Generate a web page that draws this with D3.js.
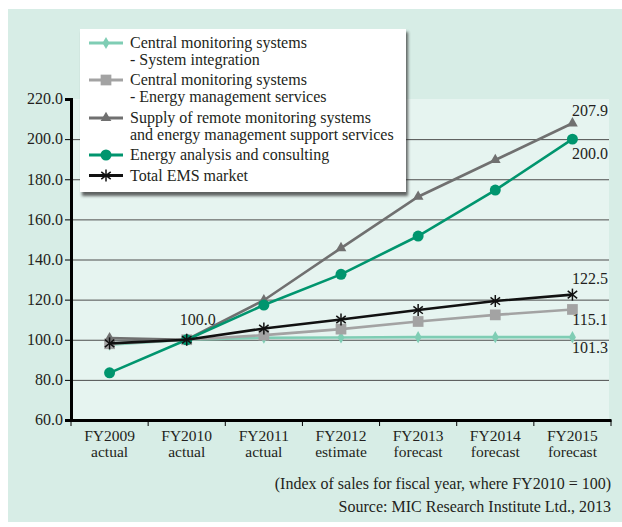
<!DOCTYPE html>
<html>
<head>
<meta charset="utf-8">
<script src="https://cdn.jsdelivr.net/npm/d3@7"></script>
<style>
  body { margin: 0; background: #fff; }
  text { font-family: "Liberation Serif", "Times New Roman", serif; fill: #231f20; }
</style>
</head>
<body>
<svg id="chart" width="622" height="527"></svg>
<script>
// data
var years = ["FY2009", "FY2010", "FY2011", "FY2012", "FY2013", "FY2014", "FY2015"];
var yearNotes = ["actual", "actual", "actual", "estimate", "forecast", "forecast", "forecast"];
var yTicks = [60, 80, 100, 120, 140, 160, 180, 200, 220];

var sysIntegration = [97.5, 100, 101.0, 101.1, 101.3, 101.3, 101.3];
var energyMgmt = [98.0, 100, 102.3, 105.3, 109.1, 112.4, 115.1];
var remoteSupply = [100.8, 100, 119.7, 145.7, 171.3, 189.6, 207.9];
var energyAnalysis = [83.5, 100, 117.3, 132.6, 151.7, 174.6, 200.0];
var totalEms = [98.2, 100, 105.6, 110.1, 114.8, 119.3, 122.5];

var seriesNames = [
  ["Central monitoring systems", "- System integration"],
  ["Central monitoring systems", "- Energy management services"],
  ["Supply of remote monitoring systems", "and energy management support services"],
  ["Energy analysis and consulting"],
  ["Total EMS market"]
];

var series = [
  { name: seriesNames[0], values: sysIntegration, color: "#7fcdb4", marker: "diamond" },
  { name: seriesNames[1], values: energyMgmt, color: "#a3a3a3", marker: "square" },
  { name: seriesNames[2], values: remoteSupply, color: "#707070", marker: "triangle" },
  { name: seriesNames[3], values: energyAnalysis, color: "#00956e", marker: "circle" },
  { name: seriesNames[4], values: totalEms, color: "#111111", marker: "asterisk" }
];

var svg = d3.select("#chart");
var defs = svg.append("defs");
defs.append("filter").attr("id", "blur").append("feGaussianBlur").attr("stdDeviation", 1.5);

// background panels
svg.append("rect").attr("x", 8).attr("y", 9).attr("width", 614).attr("height", 513).attr("fill", "#d7ede6");
var margin = { left: 71, right: 611, top: 99, bottom: 420 };
svg.append("rect").attr("x", margin.left).attr("y", margin.top)
  .attr("width", 609 - margin.left).attr("height", margin.bottom - margin.top).attr("fill", "#e6f4f0");

var x = d3.scaleBand().domain(years).range([margin.left, margin.right]);
var y = d3.scaleLinear().domain([60, 220]).range([margin.bottom, margin.top]);
var cx = function (i) { return x(years[i]) + x.bandwidth() / 2; };

// grid
svg.append("g")
  .attr("transform", "translate(" + margin.left + ",0)")
  .call(d3.axisLeft(y).tickValues(yTicks.filter(function (d) { return d > 60 && d < 220; }))
    .tickSize(-(609 - margin.left)).tickFormat(""))
  .call(function (g) {
    g.select(".domain").remove();
    g.selectAll("line").attr("stroke", "#4d4d4d").attr("stroke-width", 1);
  });

// y axis
svg.append("g")
  .attr("transform", "translate(" + margin.left + ",0)")
  .call(d3.axisLeft(y).tickValues(yTicks).tickSize(6).tickPadding(2).tickFormat(d3.format(".1f")))
  .call(function (g) {
    g.select(".domain").attr("stroke", "#000").attr("stroke-width", 3);
    g.selectAll("line").attr("stroke", "#000");
    g.selectAll("text").attr("font-size", 16).attr("fill", "#231f20").attr("dy", "0.3em")
      .style("font-family", "Liberation Serif");
  });

// x axis
var xAxis = svg.append("g")
  .attr("transform", "translate(0," + margin.bottom + ")")
  .call(d3.axisBottom(x).tickSize(0).tickFormat(""));
xAxis.select(".domain").attr("stroke", "#000").attr("stroke-width", 3);
xAxis.selectAll(".sep").data(d3.range(years.length + 1)).enter().append("line")
  .attr("x1", function (i) { return margin.left + i * x.step(); })
  .attr("x2", function (i) { return margin.left + i * x.step(); })
  .attr("y1", 0).attr("y2", 6).attr("stroke", "#000");
var xl = xAxis.selectAll(".lab").data(years).enter().append("text")
  .attr("text-anchor", "middle").attr("font-size", 15.5)
  .attr("x", function (d) { return x(d) + x.bandwidth() / 2; });
xl.append("tspan").attr("y", 21).text(function (d) { return d; });
xl.append("tspan").attr("x", function (d) { return x(d) + x.bandwidth() / 2; })
  .attr("y", 37).text(function (d, i) { return yearNotes[i]; });

// markers
function drawMarker(g, type, color, px, py) {
  if (type === "asterisk") {
    var r = 6;
    [90, 38, 142].forEach(function (a) {
      var rad = a * Math.PI / 180;
      g.append("line")
        .attr("x1", px - r * Math.cos(rad)).attr("y1", py - r * Math.sin(rad))
        .attr("x2", px + r * Math.cos(rad)).attr("y2", py + r * Math.sin(rad))
        .attr("stroke", color).attr("stroke-width", 1.5);
    });
    return;
  }
  var sym = { diamond: d3.symbolDiamond, square: d3.symbolSquare, triangle: d3.symbolTriangle, circle: d3.symbolCircle }[type];
  var size = { diamond: 42, square: 115, triangle: 50, circle: 95 }[type];
  g.append("path").attr("d", d3.symbol().type(sym).size(size)())
    .attr("transform", "translate(" + px + "," + py + ")").attr("fill", color);
}

var line = d3.line()
  .x(function (d, i) { return cx(i); })
  .y(function (d) { return y(d); });

series.forEach(function (s) {
  var g = svg.append("g");
  g.append("path").attr("d", line(s.values)).attr("fill", "none")
    .attr("stroke", s.color).attr("stroke-width", 2.6);
  s.values.forEach(function (v, i) { drawMarker(g, s.marker, s.color, cx(i), y(v)); });
});

// value labels
var last = years.length - 1;
var labels = [
  { v: remoteSupply[last], i: last, dy: -7.5 },
  { v: energyAnalysis[last], i: last, dy: 20 },
  { v: totalEms[last], i: last, dy: -10.5 },
  { v: energyMgmt[last], i: last, dy: 16 },
  { v: sysIntegration[last], i: last, dy: 15.6 },
  { v: 100, i: 1, dy: -15 }
];
svg.selectAll(".vlab").data(labels).enter().append("text")
  .attr("x", function (d) { return d.i === 1 ? cx(d.i) + 11 : 590; })
  .attr("y", function (d) { return y(d.v) + d.dy; })
  .attr("text-anchor", "middle")
  .attr("font-size", 16)
  .text(function (d) { return d3.format(".1f")(d.v); });

// legend
var lg = svg.append("g");
lg.append("rect").attr("x", 82).attr("y", 32).attr("width", 326).attr("height", 164)
  .attr("fill", "#333").attr("opacity", 0.75).attr("filter", "url(#blur)");
lg.append("rect").attr("x", 80).attr("y", 29).attr("width", 326).attr("height", 163).attr("fill", "#fff");
var rowY = [43, 80, 118, 155, 175.5];
series.forEach(function (s, k) {
  var yy = rowY[k];
  lg.append("line").attr("x1", 89).attr("x2", 123).attr("y1", yy).attr("y2", yy)
    .attr("stroke", s.color).attr("stroke-width", 2.8);
  drawMarker(lg, s.marker, s.color, 106, yy);
  s.name.forEach(function (t, j) {
    lg.append("text").attr("x", 130).attr("y", yy + 5 + j * 17).attr("font-size", 16).text(t);
  });
});

// notes
svg.append("text").attr("x", 611).attr("y", 489).attr("text-anchor", "end").attr("font-size", 16)
  .text("(Index of sales for fiscal year, where FY2010 = 100)");
svg.append("text").attr("x", 611).attr("y", 512).attr("text-anchor", "end").attr("font-size", 16)
  .text("Source: MIC Research Institute Ltd., 2013");
</script>
</body>
</html>
